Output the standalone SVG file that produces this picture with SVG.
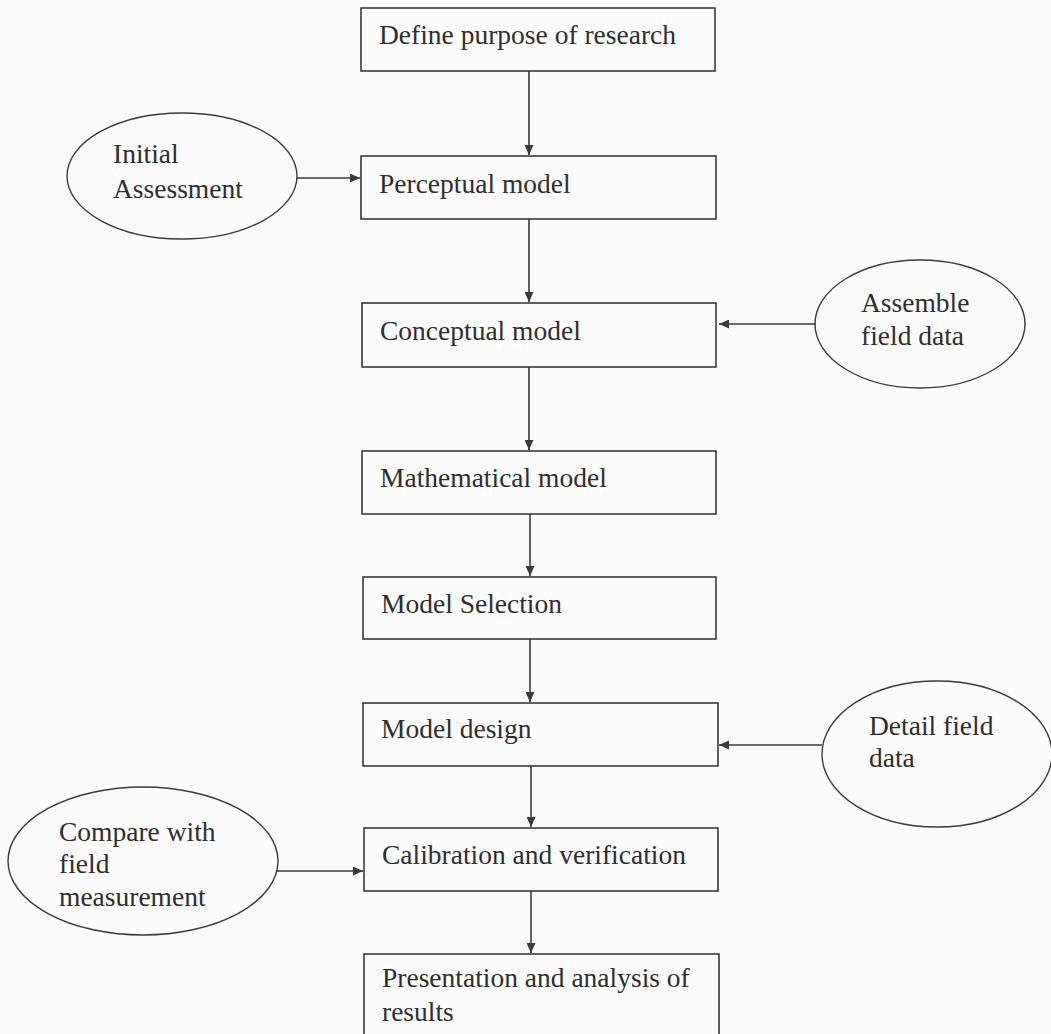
<svg xmlns="http://www.w3.org/2000/svg" width="1051" height="1034" viewBox="0 0 1051 1034">
<defs>
<style>
.box{fill:none;stroke:#3a3a3a;stroke-width:1.6}
.ell{fill:none;stroke:#3a3a3a;stroke-width:1.4}
.t{font-family:"Liberation Serif","Times New Roman",serif;font-size:27.5px;fill:#2e2e2e}
.c{fill:none;stroke:#3a3a3a;stroke-width:1.6}
</style>
<marker id="ah" markerUnits="userSpaceOnUse" markerWidth="11" markerHeight="9" refX="10" refY="4.5" orient="auto">
<path d="M0,0 L10,4.5 L0,9 Z" fill="#3a3a3a"/>
</marker>
</defs>
<rect width="1051" height="1034" fill="#fbfbfb"/>
<g id="connectors">
<line class="c" x1="529" y1="71" x2="529" y2="155" marker-end="url(#ah)"/>
<line class="c" x1="529" y1="219" x2="529" y2="302" marker-end="url(#ah)"/>
<line class="c" x1="529" y1="367" x2="529" y2="450" marker-end="url(#ah)"/>
<line class="c" x1="530" y1="514" x2="530" y2="576" marker-end="url(#ah)"/>
<line class="c" x1="530" y1="639" x2="530" y2="702" marker-end="url(#ah)"/>
<line class="c" x1="531" y1="766" x2="531" y2="827" marker-end="url(#ah)"/>
<line class="c" x1="531" y1="891" x2="531" y2="953" marker-end="url(#ah)"/>
<line class="c" x1="297" y1="178" x2="360" y2="178" marker-end="url(#ah)"/>
<line class="c" x1="816" y1="324" x2="719" y2="324" marker-end="url(#ah)"/>
<line class="c" x1="822" y1="745" x2="719" y2="745" marker-end="url(#ah)"/>
<line class="c" x1="277" y1="871" x2="363" y2="871" marker-end="url(#ah)"/>
</g>
<g id="define">
<rect class="box" x="361" y="8" width="354" height="63"/>
<text class="t" x="379" y="44">Define purpose of research</text>
</g>
<g id="perceptual">
<rect class="box" x="361" y="156" width="355" height="63"/>
<text class="t" x="379" y="193">Perceptual model</text>
</g>
<g id="conceptual">
<rect class="box" x="362" y="303" width="354" height="64"/>
<text class="t" x="380" y="340">Conceptual model</text>
</g>
<g id="mathematical">
<rect class="box" x="362" y="451" width="354" height="63"/>
<text class="t" x="380" y="487">Mathematical model</text>
</g>
<g id="selection">
<rect class="box" x="363" y="577" width="353" height="62"/>
<text class="t" x="381" y="613">Model Selection</text>
</g>
<g id="design">
<rect class="box" x="363" y="703" width="355" height="63"/>
<text class="t" x="381" y="738">Model design</text>
</g>
<g id="calibration">
<rect class="box" x="364" y="828" width="354" height="63"/>
<text class="t" x="382" y="864">Calibration and verification</text>
</g>
<g id="presentation">
<rect class="box" x="364" y="954" width="355" height="100"/>
<text class="t" x="382" y="987">Presentation and analysis of</text>
<text class="t" x="382" y="1021">results</text>
</g>
<g id="initial">
<ellipse class="ell" cx="182" cy="176" rx="115" ry="63"/>
<text class="t" x="113" y="163">Initial</text>
<text class="t" x="113" y="198">Assessment</text>
</g>
<g id="assemble">
<ellipse class="ell" cx="920" cy="324" rx="105" ry="64"/>
<text class="t" x="861" y="312">Assemble</text>
<text class="t" x="861" y="345">field data</text>
</g>
<g id="detail">
<ellipse class="ell" cx="937" cy="754" rx="115" ry="73"/>
<text class="t" x="869" y="735">Detail field</text>
<text class="t" x="869" y="767">data</text>
</g>
<g id="compare">
<ellipse class="ell" cx="143" cy="861" rx="135" ry="74"/>
<text class="t" x="59" y="841">Compare with</text>
<text class="t" x="59" y="873">field</text>
<text class="t" x="59" y="906">measurement</text>
</g>
</svg>
